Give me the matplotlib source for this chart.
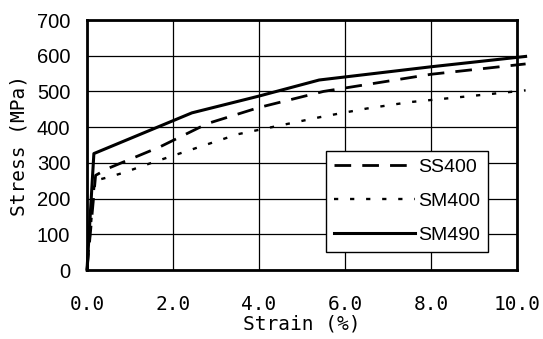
import matplotlib
matplotlib.use("Agg")
import matplotlib.pyplot as plt

# Data (strain %, stress MPa)
ss400_strain = [0.0, 0.2, 0.5, 1.7, 2.8, 4.0, 5.5, 8.0, 10.2]
ss400_stress = [0, 265, 285, 345, 410, 455, 500, 548, 577]

sm400_strain = [0.0, 0.18, 0.5, 0.84, 1.5, 2.5, 3.5, 4.5, 5.5, 6.5, 7.5, 9.0, 10.2]
sm400_stress = [0, 250, 260, 272, 300, 340, 380, 405, 430, 452, 470, 488, 503]

sm490_strain = [0.0, 0.16, 2.44, 4.0, 5.4, 8.0, 10.2]
sm490_stress = [0, 326, 440, 487, 532, 569, 598]

labels = ["SS400", "SM400", "SM490"]
x_ticks = [0, 2, 4, 6, 8, 10]
x_ticklabels = ["0.0", "2.0", "4.0", "6.0", "8.0", "10.0"]
y_ticks = [0, 100, 200, 300, 400, 500, 600, 700]

fig = plt.figure(figsize=(5.43, 3.39), dpi=100)
ax = fig.add_axes([87/543, 1-270/339, 430/543, 250/339])

ax.plot(ss400_strain, ss400_stress, color="black", lw=2.0,
        linestyle=(0, (6, 4)), clip_on=False, label=labels[0], zorder=3)
ax.plot(sm400_strain, sm400_stress, color="black", lw=1.7,
        linestyle=(0, (1.8, 5)), clip_on=False, label=labels[1], zorder=3)
ax.plot(sm490_strain, sm490_stress, color="black", lw=2.2,
        linestyle="-", clip_on=False, label=labels[2], zorder=3)

ax.set_xlim(0, 10)
ax.set_ylim(0, 700)
ax.set_xticks(x_ticks)
ax.set_xticklabels(x_ticklabels, family="DejaVu Sans Mono", fontsize=14)
ax.set_yticks(y_ticks)
ax.set_yticklabels([str(v) for v in y_ticks], family="Liberation Sans", fontsize=14.5)
ax.tick_params(axis="both", length=0)
ax.tick_params(axis="y", pad=12)
ax.tick_params(axis="x", pad=18)

ax.grid(True, color="black", lw=0.9)
ax.set_axisbelow(True)
for s in ax.spines.values():
    s.set_linewidth(2.0)
    s.set_color("black")

ax.set_xlabel("Strain (%)", family="DejaVu Sans Mono", fontsize=14, labelpad=0)
ax.set_ylabel("Stress (MPa)", family="DejaVu Sans Mono", fontsize=14, labelpad=6)

leg = ax.legend(loc="upper right", bbox_to_anchor=(0.933, 0.478), borderaxespad=0,
                prop={"family": "Liberation Sans", "size": 14},
                handlelength=4.2, handletextpad=0.15, labelspacing=0.85,
                fancybox=False, framealpha=1, edgecolor="black",
                borderpad=0.4)
leg.get_frame().set_linewidth(1.0)
leg.set_zorder(5)

fig.savefig("out.png", dpi=100)
